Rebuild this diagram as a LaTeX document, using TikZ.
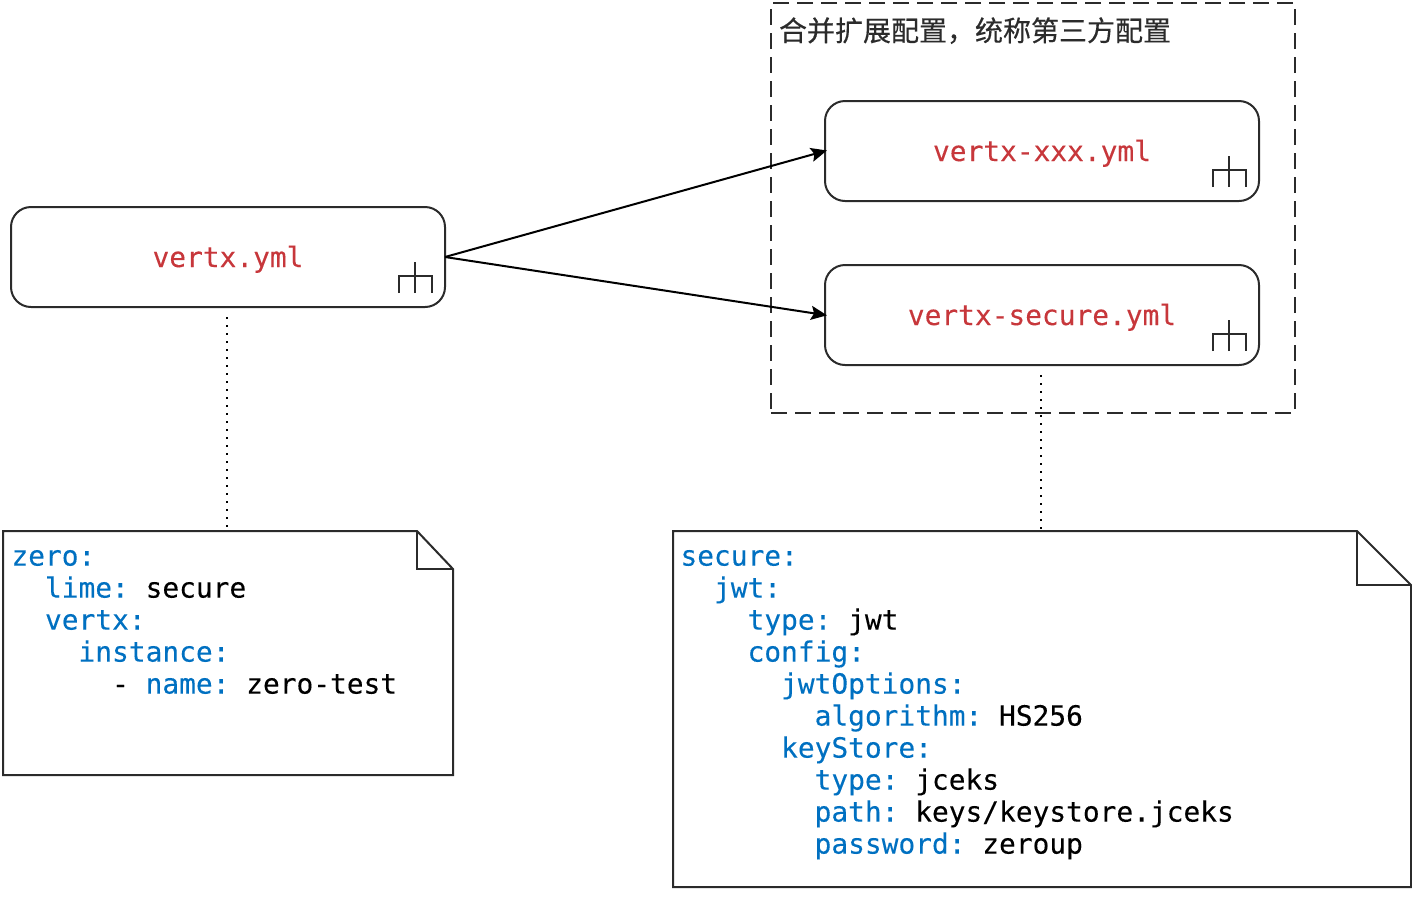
\documentclass[tikz,border=0pt]{standalone}
\usepackage{fontspec}
\setmonofont[FakeBold=0.2]{DejaVu Sans Mono}
\newfontfamily\cjkfont[FakeBold=0.4]{Noto Sans CJK SC}
\usetikzlibrary{arrows.meta,calc}
\definecolor{kw}{HTML}{0070C1}
\definecolor{fname}{HTML}{C7373B}
\definecolor{ln}{HTML}{2B2B2B}
\newcommand{\kk}[1]{\textcolor{kw}{#1}}
\tikzset{
  x=1pt,y=-1pt,
  every node/.style={inner sep=0pt,outer sep=0pt},
  filebox/.style={draw=ln,line width=2pt,rounded corners=20pt,minimum width=434pt,minimum height=100pt,text height=20pt,text depth=0pt,font=\ttfamily\fontsize{27.85}{32}\selectfont,text=fname},
  notebody/.style={draw=ln,line width=2pt,line join=miter},
  codetext/.style={anchor=north west,align=left,font=\ttfamily\fontsize{27.85}{32}\selectfont,text=black},
  link/.style={draw=black,line width=2pt,shorten >=-2pt,-{Stealth[length=16pt,width=14pt,inset=3pt]}},
  dots/.style={draw=black,line width=2pt,dash pattern=on 2pt off 6pt},
  frame/.style={draw=ln,line width=2pt,dash pattern=on 16pt off 8pt},
  iconline/.style={draw=ln,line width=2pt},
}
\newcommand{\treeicon}[1]{%
  \draw[iconline] ($(#1.south east)+(-46,-14)$) -- ++(0,-17) -- ++(33,0) -- ++(0,17);
  \draw[iconline] ($(#1.south east)+(-30,-14)$) -- ++(0,-31);
}
\begin{document}
\begin{tikzpicture}
\useasboundingbox (0,0) rectangle (1412,898);
\node[frame,minimum width=524pt,minimum height=410pt] (group) at (1033,208) {};
\node[anchor=base west,font=\cjkfont\fontsize{28}{28}\selectfont,text=ln] (grouplabel) at (779,41) {合并扩展配置，统称第三方配置};

\node[filebox] (main) at (228,257) {vertx.yml};
\node[filebox] (xxx) at (1042,151) {vertx-xxx.yml};
\node[filebox] (secure) at (1042,315) {vertx-secure.yml};
\treeicon{main}
\treeicon{xxx}
\treeicon{secure}

\draw[link] (main.east) -- (xxx.west);
\draw[link] (main.east) -- (secure.west);

% notes
\node[minimum width=450pt,minimum height=244pt] (noteA) at (228,653) {};
\draw[notebody] (noteA.north west) -- ($(noteA.north east)+(-36,0)$) -- ($(noteA.north east)+(0,38)$) -- (noteA.south east) -- (noteA.south west) -- cycle;
\draw[notebody] ($(noteA.north east)+(-36,0)$) -- ($(noteA.north east)+(-36,38)$) -- ($(noteA.north east)+(0,38)$);
\node[minimum width=738pt,minimum height=356pt] (noteB) at (1042,709) {};
\draw[notebody] (noteB.north west) -- ($(noteB.north east)+(-54,0)$) -- ($(noteB.north east)+(0,54)$) -- (noteB.south east) -- (noteB.south west) -- cycle;
\draw[notebody] ($(noteB.north east)+(-54,0)$) -- ($(noteB.north east)+(-54,54)$) -- ($(noteB.north east)+(0,54)$);

\draw[dots] ($(main.south)+(-1,10)$) -- ($(noteA.north)+(-1,0)$);
\draw[dots] ($(secure.south)+(-1,10)$) -- ($(noteB.north)+(-1,0)$);

\node[codetext] (codeA) at (11.5,550) {\kk{zero:}\\
~~\kk{lime:} secure\\
~~\kk{vertx:}\\
~~~~\kk{instance:}\\
~~~~~~- \kk{name:} zero-test};
\node[codetext] (codeB) at (680.5,550) {\kk{secure:}\\
~~\kk{jwt:}\\
~~~~\kk{type:} jwt\\
~~~~\kk{config:}\\
~~~~~~\kk{jwtOptions:}\\
~~~~~~~~\kk{algorithm:} HS256\\
~~~~~~\kk{keyStore:}\\
~~~~~~~~\kk{type:} jceks\\
~~~~~~~~\kk{path:} keys/keystore.jceks\\
~~~~~~~~\kk{password:} zeroup};
\end{tikzpicture}
\end{document}
